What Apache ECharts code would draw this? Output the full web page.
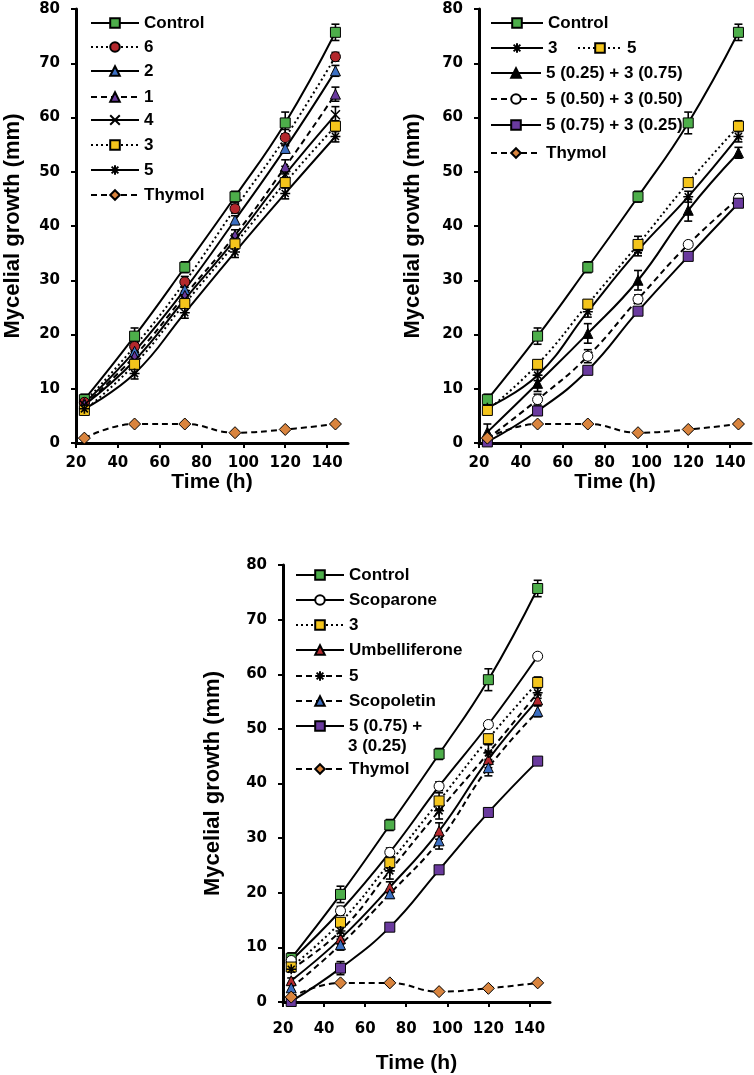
<!DOCTYPE html>
<html><head><meta charset="utf-8">
<script src="https://cdn.jsdelivr.net/npm/echarts@6/dist/echarts.min.js"></script>
<style>html,body{margin:0;padding:0;background:#fff}#c{width:754px;height:1075px}</style>
</head><body><div id="c"></div><script>
// ---------- data ----------
const hours = [24, 48, 72, 96, 120, 144];
const control = [8.0, 19.7, 32.4, 45.4, 59.0, 75.7];
const controlErr = [1.0, 1.5, 1.0, 1.0, 2.0, 1.5];
const thymol = [0.9, 3.5, 3.5, 1.9, 2.5, 3.5];
const thymolErr = [0.2, 0.2, 0.2, 0.2, 0.2, 0.2];

// Panel A
const a6 = [7.5, 17.8, 29.7, 43.2, 56.3, 71.2];
const a6Err = [0.5, 1.0, 1.0, 0.8, 1.5, 0.8];
const a2 = [7.3, 16.9, 28.3, 41.1, 54.3, 68.6];
const a2Err = [0.5, 0.8, 0.8, 0.8, 0.8, 1.0];
const a1 = [7.0, 16.0, 27.2, 38.3, 50.9, 64.3];
const a1Err = [0.5, 1.0, 0.8, 1.0, 1.3, 1.3];
const a4 = [7.0, 15.2, 26.5, 37.5, 49.5, 60.5];
const a4Err = [0.5, 1.0, 1.0, 1.0, 1.5, 1.5];
const a3 = [6.0, 14.5, 25.7, 36.7, 48.0, 58.4];
const a3Err = [0.5, 0.8, 0.8, 0.8, 0.8, 1.0];
const a5 = [6.3, 12.8, 24.0, 35.2, 46.0, 56.5];
const a5Err = [0.5, 1.0, 1.0, 1.0, 1.0, 1.0];

// Panel B
const b3 = [6.5, 12.5, 24.2, 35.5, 45.4, 56.5];
const b3Err = [0.5, 1.0, 1.0, 1.0, 1.0, 1.0];
const b5 = [6.0, 14.5, 25.6, 36.6, 48.0, 58.4];
const b5Err = [0.5, 0.8, 0.8, 1.5, 0.8, 1.0];
const bMix25 = [2.0, 11.0, 20.2, 30.0, 42.9, 53.5];
const bMix25Err = [1.5, 1.5, 1.8, 1.8, 2.0, 1.0];
const bMix50 = [0.8, 8.0, 16.0, 26.5, 36.6, 45.1];
const bMix50Err = [0.5, 1.0, 1.2, 0.8, 0.5, 0.8];
const bMix75 = [0.2, 5.9, 13.4, 24.3, 34.4, 44.2];
const bMix75Err = [0.3, 0.5, 0.5, 0.5, 0.5, 0.5];

// Panel C
const cScoparone = [7.6, 16.7, 27.4, 39.5, 50.8, 63.3];
const cScoparoneErr = [0.5, 0.8, 0.8, 0.8, 0.5, 0.5];
const c3 = [6.4, 14.6, 25.5, 36.8, 48.2, 58.5];
const c3Err = [0.5, 0.8, 0.8, 1.5, 0.8, 1.0];
const cUmb = [3.9, 11.6, 21.0, 31.3, 44.4, 55.3];
const cUmbErr = [0.5, 1.0, 1.0, 1.5, 1.5, 1.0];
const c5 = [6.0, 13.0, 24.0, 35.0, 45.6, 56.6];
const c5Err = [0.5, 1.0, 1.5, 1.5, 1.5, 1.0];
const cScopoletin = [2.6, 10.5, 19.8, 29.5, 42.9, 53.2];
const cScopoletinErr = [0.5, 1.0, 0.8, 1.5, 1.5, 1.0];
const cMix75 = [0.1, 6.2, 13.7, 24.2, 34.7, 44.1];
const cMix75Err = [0.3, 1.2, 0.5, 0.5, 0.5, 0.5];

// ---------- styles ----------
const GREEN = '#4DAE4A', RED = '#B3282D', BLUE = '#3C6FC2', PURPLE = '#6A3A9E',
      YELLOW = '#F4C51C', ORANGE = '#D9843E', WHITE = '#ffffff', BLACK = '#000000';
const ASTER = 'path://M5,0L5,10M0,5L10,5M1.5,1.5L8.5,8.5M8.5,1.5L1.5,8.5';
const XMARK = 'path://M0,0L10,10M10,0L0,10';
const DASH = [6, 4], DOT = [2, 3];

function lineSeries(panel, name, values, sym, size, fill, ltype) {
  const isPath = sym.indexOf('path://') === 0;
  return {
    type: 'line', name: panel + '|' + name,
    xAxisIndex: panel === 'A' ? 0 : panel === 'B' ? 1 : 2,
    yAxisIndex: panel === 'A' ? 0 : panel === 'B' ? 1 : 2,
    data: hours.map((h, i) => [h, values[i]]),
    smooth: 0.45, symbol: sym, symbolSize: size, showAllSymbol: true,
    lineStyle: { color: BLACK, width: 2, type: ltype },
    itemStyle: isPath ? { color: 'rgba(0,0,0,0)', borderColor: BLACK, borderWidth: 1.6 }
                      : { color: fill, borderColor: BLACK, borderWidth: 1 },
    z: 3, animation: false, emphasis: { disabled: true }
  };
}
function errSeries(panel, values, errs) {
  const idx = panel === 'A' ? 0 : panel === 'B' ? 1 : 2;
  return {
    type: 'custom', xAxisIndex: idx, yAxisIndex: idx, silent: true, animation: false, z: 2,
    data: hours.map((h, i) => [h, values[i] - errs[i], values[i] + errs[i]]),
    encode: { x: 0, y: [1, 2] },
    renderItem: function (params, api) {
      const lo = api.coord([api.value(0), api.value(1)]);
      const hi = api.coord([api.value(0), api.value(2)]);
      const w = 4;
      const st = { stroke: BLACK, lineWidth: 1.6 };
      return { type: 'group', children: [
        { type: 'line', shape: { x1: lo[0], y1: lo[1], x2: hi[0], y2: hi[1] }, style: st },
        { type: 'line', shape: { x1: lo[0] - w, y1: lo[1], x2: lo[0] + w, y2: lo[1] }, style: st },
        { type: 'line', shape: { x1: hi[0] - w, y1: hi[1], x2: hi[0] + w, y2: hi[1] }, style: st }
      ]};
    }
  };
}

// series table: [panel, name, values, errors, symbol, size, fill, lineType]
const table = [
  ['A', 'Control', control, controlErr, 'rect', 10, GREEN, 'solid'],
  ['A', '6', a6, a6Err, 'circle', 10, RED, DOT],
  ['A', '2', a2, a2Err, 'triangle', 10, BLUE, 'solid'],
  ['A', '1', a1, a1Err, 'triangle', 10, PURPLE, DASH],
  ['A', '4', a4, a4Err, XMARK, 9, BLACK, 'solid'],
  ['A', '3', a3, a3Err, 'rect', 10, YELLOW, DOT],
  ['A', '5', a5, a5Err, ASTER, 10, BLACK, 'solid'],
  ['A', 'Thymol', thymol, thymolErr, 'diamond', 12, ORANGE, DASH],

  ['B', 'Control', control, controlErr, 'rect', 10, GREEN, 'solid'],
  ['B', '3', b3, b3Err, ASTER, 10, BLACK, 'solid'],
  ['B', '5', b5, b5Err, 'rect', 10, YELLOW, DOT],
  ['B', '5 (0.25) + 3 (0.75)', bMix25, bMix25Err, 'triangle', 10, BLACK, 'solid'],
  ['B', '5 (0.50) + 3 (0.50)', bMix50, bMix50Err, 'circle', 10, WHITE, DASH],
  ['B', '5 (0.75) + 3 (0.25)', bMix75, bMix75Err, 'rect', 10, PURPLE, 'solid'],
  ['B', 'Thymol', thymol, thymolErr, 'diamond', 12, ORANGE, DASH],

  ['C', 'Control', control, controlErr, 'rect', 10, GREEN, 'solid'],
  ['C', 'Scoparone', cScoparone, cScoparoneErr, 'circle', 10, WHITE, 'solid'],
  ['C', '3', c3, c3Err, 'rect', 10, YELLOW, DOT],
  ['C', 'Umbelliferone', cUmb, cUmbErr, 'triangle', 10, RED, 'solid'],
  ['C', '5', c5, c5Err, ASTER, 10, BLACK, DASH],
  ['C', 'Scopoletin', cScopoletin, cScopoletinErr, 'triangle', 10, BLUE, DASH],
  ['C', '5 (0.75) + 3 (0.25)', cMix75, cMix75Err, 'rect', 10, PURPLE, 'solid'],
  ['C', 'Thymol', thymol, thymolErr, 'diamond', 12, ORANGE, DASH]
];

const series = [];
table.forEach(r => series.push(errSeries(r[0], r[2], r[3])));
table.forEach(r => series.push(lineSeries(r[0], r[1], r[2], r[4], r[5], r[6], r[7])));

// ---------- legends (panel, name, left, centerY, itemWidth) ----------
const legendPlaces = [
  ['A', 'Control', 90, 23, 48], ['A', '6', 90, 47, 48], ['A', '2', 90, 71, 48],
  ['A', '1', 90, 97, 48], ['A', '4', 90, 120, 48], ['A', '3', 90, 145, 48],
  ['A', '5', 90, 170, 48], ['A', 'Thymol', 90, 195, 48],
  ['B', 'Control', 490, 23, 52], ['B', '3', 490, 48, 52], ['B', '5', 577, 48, 44],
  ['B', '5 (0.25) + 3 (0.75)', 490, 73, 50], ['B', '5 (0.50) + 3 (0.50)', 490, 99, 50],
  ['B', '5 (0.75) + 3 (0.25)', 490, 125, 50], ['B', 'Thymol', 490, 153, 50],
  ['C', 'Control', 295, 575, 48], ['C', 'Scoparone', 295, 600, 48], ['C', '3', 295, 625, 48],
  ['C', 'Umbelliferone', 295, 650, 48], ['C', '5', 295, 676, 48], ['C', 'Scopoletin', 295, 701, 48],
  ['C', '5 (0.75) + 3 (0.25)', 295, 726, 48], ['C', 'Thymol', 295, 769, 48]
];
const legends = legendPlaces.map(p => ({
  data: [p[0] + '|' + p[1]], left: p[2], top: p[3] - 9, itemWidth: p[4], itemHeight: 12,
  padding: 0, selectedMode: false, orient: 'horizontal',
  formatter: function (n) {
    const s = n.split('|')[1];
    return (p[0] === 'C' && s === '5 (0.75) + 3 (0.25)') ? '5 (0.75) +' : s;
  },
  textStyle: { color: BLACK, fontFamily: 'Liberation Sans', fontWeight: 'bold', fontSize: 17, lineHeight: 18 }
}));

// ---------- axes ----------
function xAx(i, nameGap, margin) {
  return {
    gridIndex: i, type: 'value', min: 20, max: 150, interval: 20,
    axisLine: { show: true, onZero: false, lineStyle: { color: BLACK, width: 3 } },
    axisTick: { show: true, length: 5, lineStyle: { color: BLACK, width: 2 } },
    axisLabel: { color: BLACK, fontFamily: 'DejaVu Sans', fontWeight: 'bold', fontSize: 15, margin: margin, showMaxLabel: false },
    splitLine: { show: false },
    name: 'Time (h)', nameLocation: 'middle', nameGap: nameGap,
    nameTextStyle: { color: BLACK, fontFamily: 'Liberation Sans', fontWeight: 'bold', fontSize: 21 }
  };
}
function yAx(i, nameGap) {
  return {
    gridIndex: i, type: 'value', min: 0, max: 80, interval: 10,
    axisLine: { show: true, onZero: false, lineStyle: { color: BLACK, width: 3 } },
    axisTick: { show: true, length: 5, lineStyle: { color: BLACK, width: 2 } },
    axisLabel: { color: BLACK, fontFamily: 'DejaVu Sans', fontWeight: 'bold', fontSize: 15, margin: 16 },
    splitLine: { show: false },
    name: 'Mycelial growth (mm)', nameLocation: 'middle', nameGap: nameGap, nameRotate: 90,
    nameTextStyle: { color: BLACK, fontFamily: 'Liberation Sans', fontWeight: 'bold', fontSize: 22 }
  };
}

const option = {
  backgroundColor: '#ffffff',
  animation: false,
  grid: [
    { left: 76, top: 9, width: 272, height: 434 },
    { left: 479, top: 9, width: 272, height: 434 },
    { left: 283, top: 565, width: 267, height: 438 }
  ],
  xAxis: [xAx(0, 17, 13), xAx(1, 17, 13), xAx(2, 51, 20)],
  yAxis: [yAx(0, 52), yAx(1, 55), yAx(2, 59)],
  legend: legends,
  graphic: [{
    type: 'text', left: 348, top: 738,
    style: { text: '3 (0.25)', fill: BLACK, font: 'bold 17px "Liberation Sans"' }
  }],
  series: series
};

const chart = echarts.init(document.getElementById('c'), null, { renderer: 'canvas' });
chart.setOption(option);
</script></body></html>
